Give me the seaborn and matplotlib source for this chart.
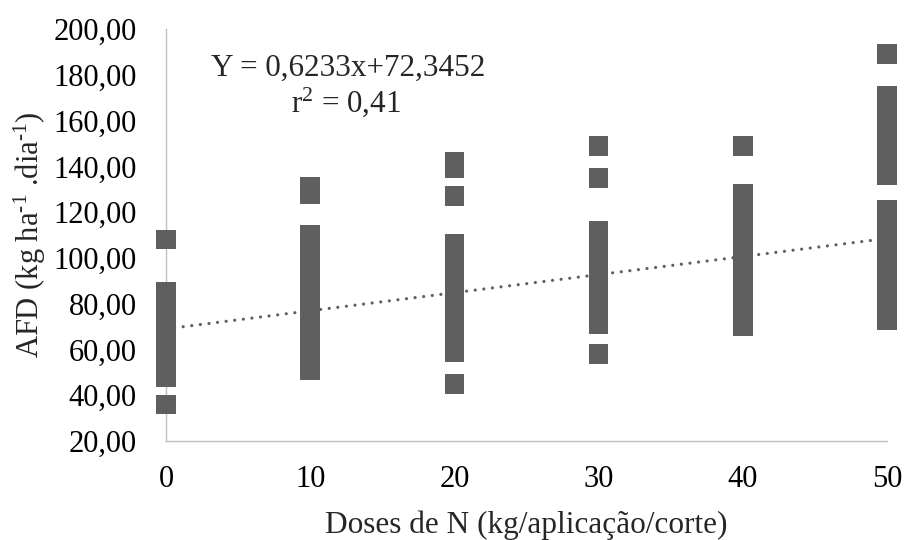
import matplotlib.pyplot as plt
import seaborn as sns
import numpy as np
import pandas as pd

# Doses of N and the AFD values read per dose column
doses = [0, 10, 20, 30, 40, 50]
afd_0 = [36, 48, 52, 57, 61, 66, 70, 74, 79, 83, 85, 108]
afd_10 = [51, 56, 62, 68, 73, 79, 85, 90, 96, 101, 106, 110, 128, 131]
afd_20 = [45, 59, 64, 70, 75, 81, 86, 92, 97, 102, 106, 127, 139, 142]
afd_30 = [58, 71, 76, 82, 87, 93, 98, 103, 108, 112, 135, 149]
afd_40 = [70, 75, 81, 87, 93, 99, 104, 110, 116, 122, 128, 149]
afd_50 = [73, 78, 84, 90, 96, 102, 108, 114, 118, 121, 136, 142, 148, 154, 160, 165, 171, 189]

# trendline as drawn in the chart (ends at dose 0 and 50)
trend_x = [0, 50]
trend_y = [69, 108.5]

y_ticks = [20, 40, 60, 80, 100, 120, 140, 160, 180, 200]
equation = "Y = 0,6233x+72,3452"
r2_text = "r$^2$ = 0,41"

groups = [afd_0, afd_10, afd_20, afd_30, afd_40, afd_50]
df = pd.DataFrame({
    'dose': np.concatenate([[d] * len(g) for d, g in zip(doses, groups)]),
    'afd': np.concatenate(groups),
})

sns.set_style('white')
plt.rcParams['font.family'] = ['Liberation Serif', 'DejaVu Serif']
plt.rcParams['mathtext.fontset'] = 'custom'
plt.rcParams['mathtext.rm'] = 'Liberation Serif'
plt.rcParams['mathtext.it'] = 'Liberation Serif'
plt.rcParams['mathtext.default'] = 'rm'

fig = plt.figure(figsize=(9.07, 5.40), dpi=100)
ax = fig.add_axes([0.183, 0.1833, 0.795, 0.763])

gray = '#5f5f5f'
sns.scatterplot(data=df, x='dose', y='afd', marker='s', s=200, color=gray,
                edgecolor='none', ax=ax, clip_on=False, zorder=3)
sns.lineplot(x=trend_x, y=trend_y, ax=ax, color=gray, linestyle=(0, (0.01, 2.7)),
             linewidth=2.3, zorder=4)
ax.lines[-1].set_dash_capstyle('round')

ax.set_xlim(0, 50)
ax.set_ylim(20, 200)
ax.set_xticks(doses)
ax.set_xticklabels([str(d) for d in doses])
ax.set_yticks(y_ticks)
ax.set_yticklabels([f"{v:.2f}".replace('.', ',') for v in y_ticks])
ax.tick_params(axis='both', length=0, labelsize=22, colors='black')
ax.tick_params(axis='y', pad=21)
ax.tick_params(axis='x', pad=17)

for side in ['top', 'right']:
    ax.spines[side].set_visible(False)
for side in ['left', 'bottom']:
    ax.spines[side].set_color('#bfbfbf')
    ax.spines[side].set_linewidth(1.0)

ax.set_xlabel('Doses de N (kg/aplicação/corte)', fontsize=22.5, labelpad=12)
ax.set_ylabel('AFD (kg ha$^{\\text{-}1}$ .dia$^{\\text{-}1}$)', fontsize=22, labelpad=4)

ax.text(0.253, 0.905, equation, transform=ax.transAxes, ha='center', va='center', fontsize=22.4)
ax.text(0.25, 0.822, r2_text, transform=ax.transAxes, ha='center', va='center', fontsize=22.4)

fig.savefig('out.png', dpi=100)
